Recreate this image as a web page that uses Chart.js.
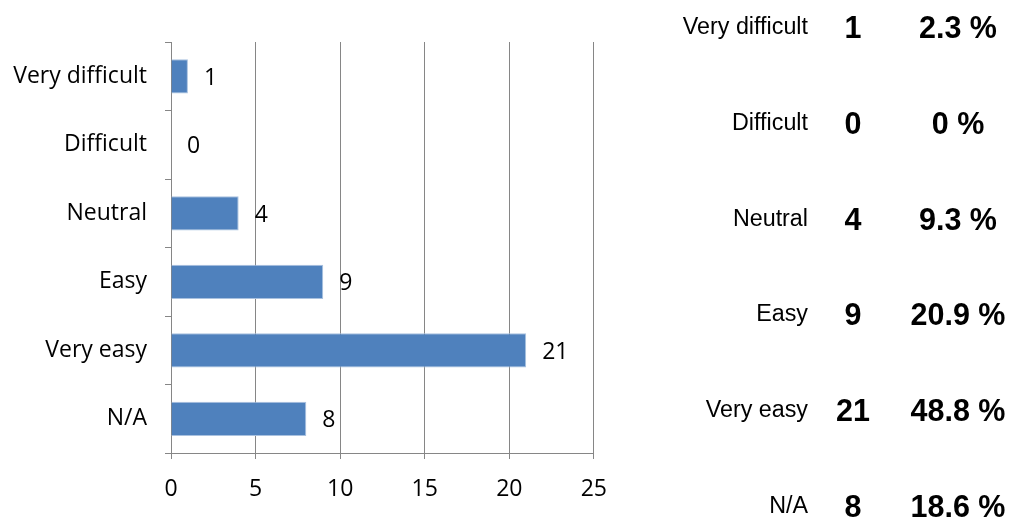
<!DOCTYPE html>
<html>
<head>
<meta charset="utf-8">
<script src="https://cdn.jsdelivr.net/npm/chart.js@4/dist/chart.umd.min.js"></script>
<style>
  html, body { margin: 0; padding: 0; background: #fff; }
  #wrap { position: relative; width: 1017px; height: 518px; overflow: hidden; }
  #chartBox { position: absolute; left: 0; top: 0; width: 624px; height: 518px; }
  .cell { position: absolute; font-family: "Liberation Sans", Arial, sans-serif; color: #000; line-height: 1; white-space: nowrap; transform: translateY(-50%); }
  .lab { font-size: 23.3px; text-align: right; width: 200px; left: 608px; }
  .cnt { font-size: 30.5px; font-weight: bold; text-align: center; width: 80px; left: 813px; }
  .pct { font-size: 30.5px; font-weight: bold; text-align: center; width: 140px; left: 888px; }
</style>
</head>
<body>
<div id="wrap">
  <div id="chartBox"><canvas id="c"></canvas></div>
</div>
<script>
const categories = ["Very difficult", "Difficult", "Neutral", "Easy", "Very easy", "N/A"];
const counts = [1, 0, 4, 9, 21, 8];
const percentLabels = ["2.3 %", "0 %", "9.3 %", "20.9 %", "48.8 %", "18.6 %"];
const xTicks = [0, 5, 10, 15, 20, 25];

const chartFont = "'Open Sans', 'Noto Sans', sans-serif";
const gridColor = "#868686";

// right-hand summary table
const wrap = document.getElementById('wrap');
categories.forEach((cat, i) => {
  const y = 27 + i * 95.8;
  [["lab", cat], ["cnt", String(counts[i])], ["pct", percentLabels[i]]].forEach(([cls, txt]) => {
    const d = document.createElement('div');
    d.className = 'cell ' + cls;
    d.style.top = y + 'px';
    d.textContent = txt;
    wrap.appendChild(d);
  });
});

const valueLabels = {
  id: 'valueLabels',
  afterDatasetsDraw(chart) {
    const ctx = chart.ctx;
    const meta = chart.getDatasetMeta(0);
    ctx.save();
    ctx.font = "23px " + chartFont;
    ctx.fillStyle = "#000";
    ctx.textAlign = "left";
    ctx.textBaseline = "middle";
    meta.data.forEach((bar, i) => {
      ctx.fillText(String(counts[i]), bar.x + 16, bar.y + 2);
    });
    ctx.restore();
  }
};

new Chart(document.getElementById('c'), {
  type: 'bar',
  data: {
    labels: categories,
    datasets: [{
      data: counts,
      backgroundColor: "#4F81BD",
      borderColor: "#a9c1df",
      borderWidth: 1,
      categoryPercentage: 1,
      barPercentage: 0.5
    }]
  },
  options: {
    indexAxis: 'y',
    responsive: true,
    maintainAspectRatio: false,
    animation: false,
    events: [],
    layout: { padding: { top: 42, right: 27, left: 0, bottom: 0 } },
    plugins: { legend: { display: false }, tooltip: { enabled: false } },
    scales: {
      x: {
        min: xTicks[0],
        max: xTicks[xTicks.length - 1],
        afterBuildTicks(scale) { scale.ticks = xTicks.map(v => ({ value: v })); },
        afterFit(scale) { scale.height = 65; },
        ticks: { color: "#000", font: { family: chartFont, size: 23 }, padding: 17 },
        grid: { color: gridColor, lineWidth: 1, tickLength: 6, drawOnChartArea: true },
        border: { display: true, color: gridColor }
      },
      y: {
        afterFit(scale) { scale.width = 171; },
        ticks: { color: "#000", font: { family: chartFont, size: 23 }, padding: 18 },
        grid: { color: gridColor, lineWidth: 1, tickLength: 6, drawOnChartArea: false, offset: true },
        border: { display: true, color: gridColor }
      }
    }
  },
  plugins: [valueLabels]
});
</script>
</body>
</html>
